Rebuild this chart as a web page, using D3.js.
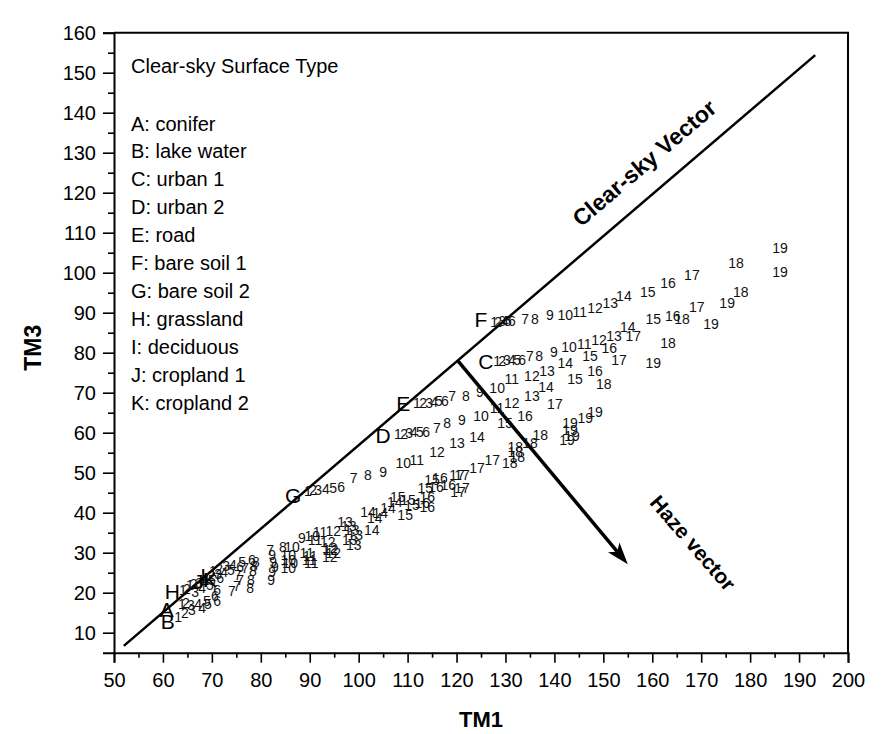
<!DOCTYPE html>
<html><head><meta charset="utf-8">
<script src="https://cdn.jsdelivr.net/npm/d3@7"></script>
<style>
body{margin:0;background:#fff;}
svg text{font-family:"Liberation Sans",Arial,Helvetica,sans-serif;}
</style></head><body>
<svg id="chart" width="882" height="734"></svg>
<script>
// ---------- data ----------
const xTicks = d3.range(50, 201, 10);
const xMinor = d3.range(55, 200, 10);
const yTicks = d3.range(10, 161, 10);
const yMinor = d3.range(15, 160, 10);
const xTitle = "TM1";
const yTitle = "TM3";
const legendTitle = "Clear-sky Surface Type";
const legendItems = ["A: conifer","B: lake water","C: urban 1","D: urban 2","E: road",
  "F: bare soil 1","G: bare soil 2","H: grassland","I: deciduous","J: cropland 1","K: cropland 2"];
const clearSkyVector = [[52, 6.7], [193.3, 154.4]];
const hazeVector = [[120.2, 78.1], [155, 27.1]];
const clearSkyLabel = "Clear-sky Vector";
const hazeLabel = "Haze vector";
const hazeLabelAt = [168.3, 32.4];

// surface letters at clear-sky point (TM1, TM3)
const letterNames = ["A","B","C","D","E","F","G","H","I","J","K"];
const letterTM1 = [60.8, 61.0, 126.0, 105.0, 109.1, 125.0, 86.6, 61.9, 68.2, 67.2, 69.6];
const letterTM3 = [15.9, 12.8, 77.9, 59.2, 67.4, 88.4, 44.4, 20.2, 24.4, 22.7, 23.2];

// hazy positions, levels 1..19, [TM1, TM3]
const seriesF = [[127.7,87.7],[128.5,87.7],[129.3,87.9],[129.9,87.9],[130.5,87.9],[131.3,87.9],[134.0,88.4],[136.0,88.4],[139.1,89.4],[142.2,89.4],[145.2,90.2],[148.3,91.2],[151.4,92.4],[154.2,94.2],[159.1,95.2],[163.2,97.4],[168.1,99.4],[177.1,102.4],[186.1,106.2]];
const seriesC = [[128.3,77.9],[129.3,77.9],[130.3,78.2],[131.3,78.2],[132.4,78.2],[133.4,78.2],[135.0,79.2],[136.9,79.2],[139.9,80.2],[143.0,81.4],[146.1,82.2],[149.1,83.2],[152.2,84.2],[155.0,86.4],[160.2,88.4],[164.2,89.2],[169.1,91.4],[178.1,95.2],[186.1,100.2]];
const seriesE = [[111.9,67.4],[113.2,67.4],[114.4,67.4],[115.4,67.7],[116.4,67.9],[117.6,67.9],[119.1,69.2],[121.9,69.2],[124.8,70.2],[128.3,71.2],[131.3,73.4],[135.4,74.2],[138.5,75.4],[142.2,77.4],[147.3,79.2],[151.2,81.2],[156.1,84.2],[166.1,88.4],[175.3,92.4]];
const seriesD = [[108.0,59.7],[109.3,59.7],[110.3,59.9],[111.3,60.2],[112.5,60.2],[113.8,60.2],[116.0,61.2],[118.1,62.4],[121.1,63.2],[125.0,64.2],[128.3,66.2],[131.3,67.4],[135.4,69.2],[138.3,71.4],[144.2,73.4],[148.3,75.4],[153.2,78.2],[163.2,82.4],[172.0,87.2]];
const seriesG = [[89.6,45.4],[90.7,45.7],[91.7,45.7],[93.3,45.9],[94.8,46.2],[96.4,46.4],[99.0,48.7],[101.9,49.4],[105.0,50.2],[109.1,52.4],[111.9,53.2],[116.0,55.2],[120.1,57.4],[124.2,58.9],[129.9,62.4],[134.0,64.2],[140.1,67.2],[150.1,72.2],[160.2,77.4]];
const seriesI = [[70.2,25.4],[71.5,25.9],[72.9,26.7],[74.3,26.9],[76.2,27.7],[78.2,28.2],[81.9,30.7],[84.5,31.4],[88.4,33.7],[90.5,34.2],[92.1,35.2],[94.8,35.4],[97.2,37.7],[101.9,40.2],[108.0,43.9],[114.0,43.9],[120.1,49.4],[137.1,59.4],[148.3,65.2]];
const seriesK = [[69.0,23.7],[70.0,24.2],[71.3,24.7],[72.5,25.2],[73.9,25.7],[75.8,26.4],[76.8,26.2],[79.0,27.7],[82.3,29.4],[86.4,31.4],[91.1,33.2],[93.7,32.7],[98.0,36.7],[104.4,39.9],[110.1,43.2],[114.0,41.4],[121.1,49.4],[135.0,57.4],[146.3,63.7]];
const seriesJ = [[65.5,21.9],[66.3,22.2],[67.4,22.4],[68.6,22.7],[70.0,23.2],[71.7,23.7],[75.3,24.4],[78.6,26.7],[82.5,27.7],[85.6,29.4],[89.4,29.9],[94.1,31.2],[98.6,35.7],[106.0,41.2],[110.9,41.9],[115.8,46.4],[121.1,46.2],[132.0,56.4],[143.2,62.4]];
const seriesH = [[64.1,20.7],[64.9,20.9],[66.6,20.2],[68.0,21.2],[69.6,21.9],[71.1,20.7],[75.8,23.2],[78.4,25.4],[82.9,26.4],[85.6,28.2],[90.1,29.2],[94.3,30.7],[99.3,34.4],[107.4,42.7],[113.6,46.2],[118.3,46.9],[124.2,51.2],[132.0,55.2],[143.2,60.7]];
const seriesA = [[63.9,17.2],[64.7,17.4],[65.7,16.9],[67.2,17.2],[69.0,17.9],[70.6,19.2],[75.1,21.7],[78.0,23.2],[82.3,25.2],[86.0,27.4],[89.9,28.2],[94.8,29.9],[98.2,33.2],[103.3,38.7],[109.5,39.4],[113.0,42.4],[127.3,53.2],[132.4,53.9],[142.6,58.2]];
const seriesB = [[63.1,13.9],[64.5,14.9],[65.9,15.7],[68.0,16.2],[69.2,17.2],[71.1,17.9],[74.1,20.4],[77.8,21.2],[82.1,23.2],[85.6,26.2],[90.3,27.4],[94.1,28.9],[99.0,31.9],[102.7,35.7],[115.0,48.2],[116.6,48.7],[120.3,45.2],[130.9,52.4],[143.6,59.2]];
const allSeries = [seriesA, seriesB, seriesC, seriesD, seriesE, seriesF, seriesG, seriesH, seriesI, seriesJ, seriesK];

// ---------- drawing ----------
const W = 882, H = 734;
const M = {left:114, right:34, top:32.7, bottom:81.3};
const svg = d3.select("#chart");
const x = d3.scaleLinear().domain([50, 200]).range([M.left, W - M.right]);
const y = d3.scaleLinear().domain([5, 160]).range([H - M.bottom, M.top]);
const FONT = '"Liberation Sans",Arial,Helvetica,sans-serif';

// frame (top & right)
svg.append("path")
  .attr("d", `M${x(50)},${y(160)}H${x(200)}V${y(5)}`)
  .attr("fill","none").attr("stroke","#000").attr("stroke-width",2);

// x axis
svg.append("g").attr("transform",`translate(0,${y(5)})`)
  .call(d3.axisBottom(x).tickValues(xTicks).tickSize(10).tickPadding(10).tickFormat(d3.format("d")));
svg.append("g").attr("transform",`translate(0,${y(5)})`)
  .call(d3.axisBottom(x).tickValues(xMinor).tickSize(5).tickFormat(""))
  .select(".domain").remove();
// y axis
svg.append("g").attr("transform",`translate(${x(50)},0)`)
  .call(d3.axisLeft(y).tickValues(yTicks).tickSize(11).tickPadding(7).tickFormat(d3.format("d")));
svg.append("g").attr("transform",`translate(${x(50)},0)`)
  .call(d3.axisLeft(y).tickValues(yMinor).tickSize(6).tickFormat(""))
  .select(".domain").remove();

svg.selectAll(".domain").attr("stroke","#000").attr("stroke-width",2);
svg.selectAll(".tick line").attr("stroke","#000").attr("stroke-width",1.6);
svg.selectAll(".tick text").attr("fill","#000").style("font-size","20px").style("font-family",FONT);

// axis titles
svg.append("text").text(xTitle)
  .attr("x", (x(50)+x(200))/2).attr("y", 727)
  .attr("text-anchor","middle").style("font-size","22px").style("font-weight","bold").attr("fill","#000");
svg.append("text").text(yTitle)
  .attr("transform",`translate(41,${(y(5)+y(160))/2 + 5}) rotate(-90)`)
  .attr("text-anchor","middle").style("font-size","23px").style("font-weight","bold").attr("fill","#000");

// legend text
svg.append("text").text(legendTitle).attr("x",131).attr("y",73)
  .style("font-size","20px").attr("fill","#000");
legendItems.forEach((t,i)=>{
  svg.append("text").text(t).attr("x",131).attr("y",130.5 + i*27.9)
    .style("font-size","20px").attr("fill","#000");
});

// clear-sky vector
const line = d3.line().x(d=>x(d[0])).y(d=>y(d[1]));
svg.append("path").datum(clearSkyVector).attr("d",line)
  .attr("fill","none").attr("stroke","#000").attr("stroke-width",2.5);
{
  const p0=[x(clearSkyVector[0][0]),y(clearSkyVector[0][1])], p1=[x(clearSkyVector[1][0]),y(clearSkyVector[1][1])];
  const dx=p1[0]-p0[0], dy=p1[1]-p0[1], len=Math.hypot(dx,dy);
  const ang=Math.atan2(dy,dx)*180/Math.PI;
  const t=0.78, off=21;
  const cx=p0[0]+t*dx + off*dy/len, cy=p0[1]+t*dy - off*dx/len;
  svg.append("text").text(clearSkyLabel)
    .attr("transform",`translate(${cx},${cy}) rotate(${ang})`)
    .attr("text-anchor","middle").style("font-size","23px").style("font-weight","bold").attr("fill","#000");
}

// haze vector with arrow
{
  const p0=[x(hazeVector[0][0]),y(hazeVector[0][1])], p1=[x(hazeVector[1][0]),y(hazeVector[1][1])];
  const dx=p1[0]-p0[0], dy=p1[1]-p0[1], len=Math.hypot(dx,dy);
  const ux=dx/len, uy=dy/len, nx=-uy, ny=ux;
  const L=22, Wd=7.5;
  const back=[p1[0]-0.75*L*ux, p1[1]-0.75*L*uy];
  svg.append("line").attr("x1",p0[0]).attr("y1",p0[1]).attr("x2",back[0]).attr("y2",back[1])
    .attr("stroke","#000").attr("stroke-width",3.5);
  const pts=[p1,[p1[0]-L*ux+Wd*nx,p1[1]-L*uy+Wd*ny],back,[p1[0]-L*ux-Wd*nx,p1[1]-L*uy-Wd*ny]];
  svg.append("polygon").attr("points",pts.map(p=>p.join(",")).join(" ")).attr("fill","#000");
  const ang=Math.atan2(dy,dx)*180/Math.PI;
  svg.append("text").text(hazeLabel)
    .attr("transform",`translate(${x(hazeLabelAt[0])},${y(hazeLabelAt[1])}) rotate(${ang-1})`)
    .attr("text-anchor","middle").attr("dy","0.35em")
    .style("font-size","21px").style("font-weight","bold").attr("fill","#000");
}

// hazy level numbers
const gNum = svg.append("g");
allSeries.forEach(s=>{
  gNum.selectAll(null).data(s).enter().append("text")
    .attr("x",d=>x(d[0])).attr("y",d=>y(d[1]))
    .attr("dy","0.35em").attr("text-anchor","middle")
    .style("font-size","14px").attr("fill","#111")
    .text((d,i)=>i+1);
});
// surface letters
svg.append("g").selectAll("text").data(letterNames).enter().append("text")
  .attr("x",(d,i)=>x(letterTM1[i])).attr("y",(d,i)=>y(letterTM3[i]))
  .attr("dy","0.36em").attr("text-anchor","middle")
  .style("font-size","21px").attr("fill","#000").text(d=>d);
</script>
</body></html>
